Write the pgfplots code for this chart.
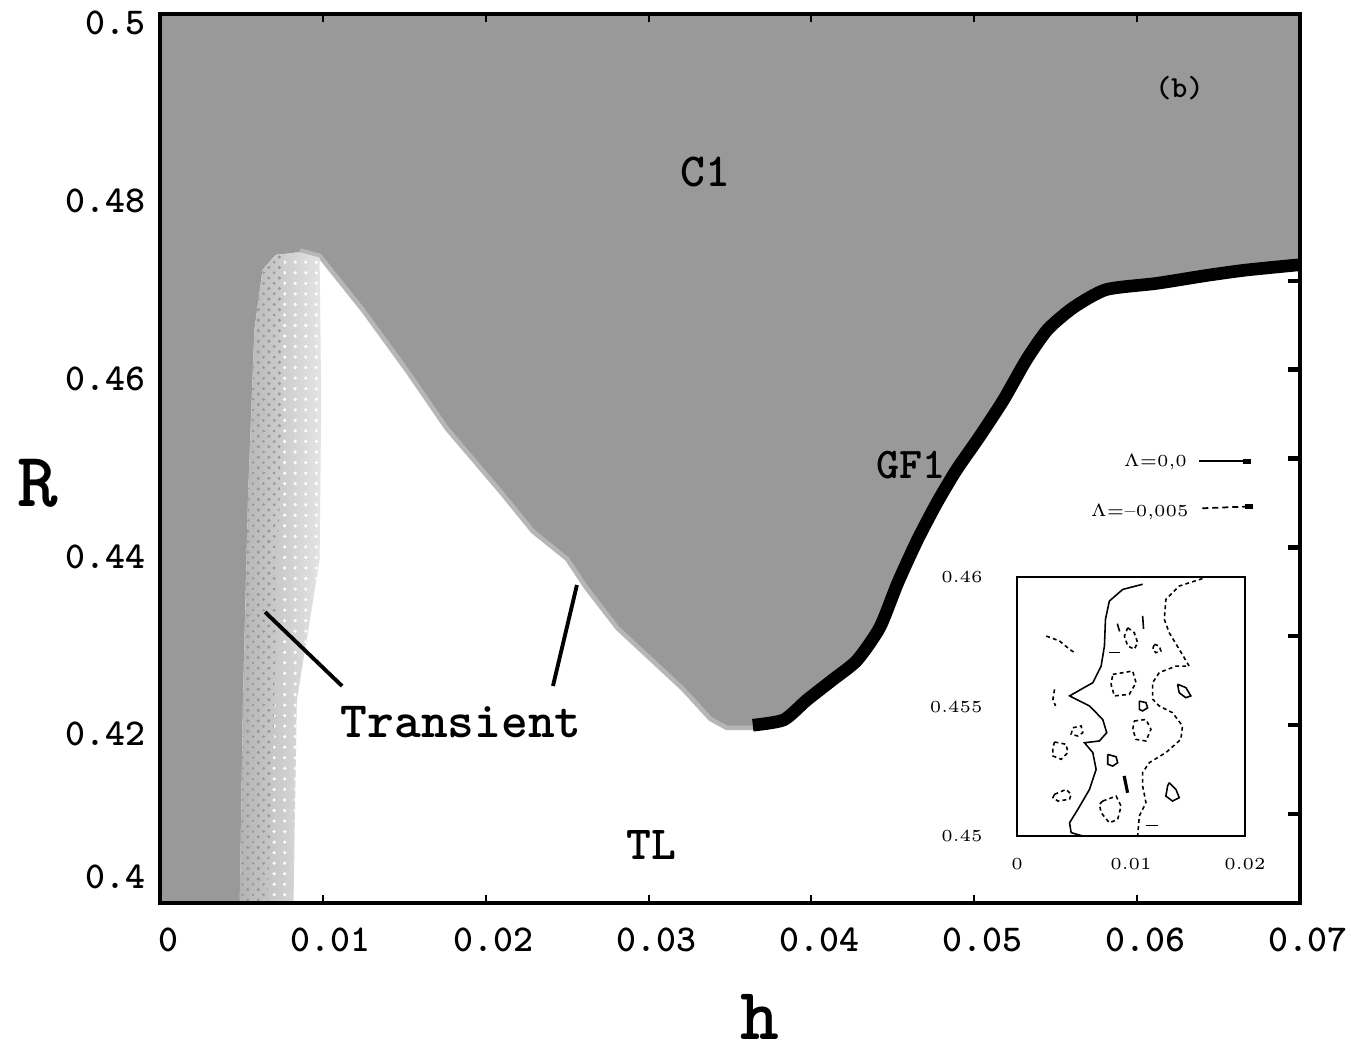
\documentclass[border=0pt]{standalone}
\usepackage{pgfplots}
\pgfplotsset{compat=1.18}
\usetikzlibrary{patterns}
\definecolor{regiongray}{RGB}{153,153,153}
\definecolor{rimgray}{RGB}{182,182,182}
\definecolor{banddark}{RGB}{180,180,180}
\definecolor{bandlight}{RGB}{228,228,228}
\newcommand{\lab}[1]{\ttfamily\bfseries\fontsize{#1}{#1}\selectfont}
\begin{document}
\begin{tikzpicture}
\path[use as bounding box] (-16mm,-15mm) rectangle (119.1mm,90.3mm);
\begin{axis}[
  at={(0,0)}, anchor=south west,
  width=114mm, height=88.9mm, scale only axis,
  xmin=0, xmax=0.07, ymin=0.4, ymax=0.5,
  axis on top, clip mode=individual,
  scaled x ticks=false, scaled y ticks=false,
  axis line style={line width=1.4pt},
  xtick={0,0.01,0.02,0.03,0.04,0.05,0.06,0.07},
  xticklabels={0,0.01,0.02,0.03,0.04,0.05,0.06,0.07},
  ytick={0.42,0.44,0.46,0.48,0.5},
  yticklabels={0.42,0.44,0.46,0.48,0.5},
  extra y ticks={0.4}, extra y tick labels={0.4},
  extra y tick style={ytick style={draw=none}, yticklabel style={yshift=3.5mm}},
  ytick style={draw=none},
  xtick style={black, line width=0.6pt},
  tick align=inside, major tick length=0.8mm,
  /pgf/number format/assume math mode=true,
  ticklabel style={font=\lab{10.8}},
  xticklabel style={yshift=-1.2mm, xshift=0.8mm},
  yticklabel style={xshift=-0.2mm, yshift=-0.9mm},
]
% C1 background
\addplot[draw=none, fill=regiongray] coordinates {(0,0.4)(0.07,0.4)(0.07,0.5)(0,0.5)} -- cycle;
% TL (white) region
\addplot[draw=none, fill=white] coordinates {
 (0.0049,0.4)(0.0051,0.4228)(0.0054,0.4453)(0.0058,0.4645)(0.0063,0.4712)(0.0071,0.4729)
 (0.0086,0.4732)(0.0098,0.4726)(0.0125,0.4664)(0.0152,0.4596)(0.0176,0.4532)(0.0209,0.4461)
 (0.0229,0.4416)(0.0250,0.4385)(0.0262,0.4352)(0.0281,0.4307)(0.0301,0.4273)(0.0321,0.4239)
 (0.0338,0.4205)(0.0348,0.4195)(0.0364,0.4195)(0.0383,0.4206)(0.0397,0.4228)(0.0413,0.4251)
 (0.0428,0.4273)(0.0442,0.4310)(0.0453,0.4360)(0.0465,0.4408)(0.0477,0.4450)(0.0489,0.4487)
 (0.0503,0.4524)(0.0518,0.4566)(0.0532,0.4611)(0.0545,0.4645)(0.0561,0.4670)(0.0581,0.4690)
 (0.0612,0.4697)(0.0643,0.4706)(0.0667,0.4712)(0.0700,0.4718)(0.0700,0.4)} -- cycle;
% light rim of the C1 boundary
\addplot[rimgray, line width=1.3pt, line join=round] coordinates {
 (0.0086,0.4734)(0.0098,0.4728)(0.0125,0.4666)(0.0152,0.4598)(0.0176,0.4534)(0.0209,0.4463)
 (0.0229,0.4418)(0.0250,0.4387)(0.0262,0.4354)(0.0281,0.4309)(0.0301,0.4275)(0.0321,0.4241)
 (0.0338,0.4207)(0.0348,0.4197)(0.0364,0.4197)};
% transient (stippled) band
\addplot[draw=none, left color=banddark, right color=bandlight] coordinates {
 (0.0049,0.4)(0.0051,0.4228)(0.0054,0.4453)(0.0058,0.4645)(0.0063,0.4712)(0.0071,0.4729)
 (0.0086,0.4732)(0.0098,0.4726)(0.0099,0.4566)(0.0098,0.4386)(0.0092,0.4318)(0.0084,0.4228)
 (0.0083,0.4116)(0.0082,0.4)} -- cycle;
\addplot[draw=none, pattern=dots, pattern color=white] coordinates {
 (0.0049,0.4)(0.0051,0.4228)(0.0054,0.4453)(0.0058,0.4645)(0.0063,0.4712)(0.0071,0.4729)
 (0.0086,0.4732)(0.0098,0.4726)(0.0099,0.4566)(0.0098,0.4386)(0.0092,0.4318)(0.0084,0.4228)
 (0.0083,0.4116)(0.0082,0.4)} -- cycle;
\addplot[draw=none, pattern=crosshatch dots, pattern color=regiongray] coordinates {
 (0.0049,0.4)(0.0051,0.4228)(0.0054,0.4453)(0.0058,0.4645)(0.0063,0.4712)(0.0071,0.4729)
 (0.0076,0.4731)(0.0074,0.4500)(0.0070,0.4200)(0.0066,0.4)} -- cycle;
% GF1 line
\addplot[black, line width=3.6pt, line join=round, smooth, tension=0.4] coordinates {
 (0.0364,0.4200)(0.0383,0.4206)(0.0397,0.4228)(0.0413,0.4251)(0.0428,0.4273)(0.0442,0.4310)
 (0.0453,0.4360)(0.0465,0.4408)(0.0477,0.4450)(0.0489,0.4487)(0.0503,0.4524)(0.0518,0.4566)
 (0.0532,0.4611)(0.0545,0.4645)(0.0561,0.4670)(0.0581,0.4690)(0.0612,0.4697)(0.0643,0.4706)
 (0.0667,0.4712)(0.0700,0.4718)};
% pointers to transient
\draw[line width=1.1pt] (axis cs:0.00645,0.43273) -- (axis cs:0.01118,0.42441);
\draw[line width=1.1pt] (axis cs:0.0256,0.43577) -- (axis cs:0.02413,0.42441);
% region labels
\node[font=\lab{13.5}] at (axis cs:0.0335,0.4822) {C1};
\node[font=\lab{8.7}] at (axis cs:0.0626,0.4917) {(b)};
\node[font=\lab{12.5}] at (axis cs:0.0461,0.4493) {GF1};
\node[font=\lab{14.5}] at (axis cs:0.0185,0.4204) {Transient};
\node[font=\lab{13.5}] at (axis cs:0.0302,0.4065) {TL};
% legend of the inset
\node[anchor=east, font=\fontsize{4.8}{5}\selectfont, inner sep=0pt] at (axis cs:0.0631,0.4496) {$\Lambda$=0,0};
\draw[line width=0.5pt] (axis cs:0.0638,0.4497) -- (axis cs:0.0668,0.4497);
\draw[line width=1.4pt] (axis cs:0.0665,0.4497) -- (axis cs:0.0670,0.4497);
\node[anchor=east, font=\fontsize{4.8}{5}\selectfont, inner sep=0pt] at (axis cs:0.0632,0.4440) {$\Lambda$=--0,005};
\draw[line width=0.5pt, dash pattern=on 0.6mm off 0.4mm] (axis cs:0.0640,0.4444) -- (axis cs:0.0668,0.4446);
\draw[line width=1.2pt] (axis cs:0.0666,0.4446) -- (axis cs:0.0671,0.4446);
% axis labels
\node[font=\lab{22}] at (rel axis cs:-0.107,0.472) {R};
\node[font=\lab{21}, inner sep=0pt] at (rel axis cs:0.526,-0.128) {h};
\end{axis}
% right-hand tick marks
\begin{axis}[
  at={(0,0)}, anchor=south west,
  width=114mm, height=88.9mm, scale only axis,
  xmin=0, xmax=0.07, ymin=0.4, ymax=0.5,
  hide x axis, axis y line*=right,
  scaled y ticks=false,
  axis line style={line width=1.4pt},
  ytick={0.41,0.42,0.43,0.44,0.45,0.46,0.47}, yticklabels={},
  tick align=inside, major tick length=1.2mm,
  ytick style={black, line width=1.2pt},
]
\addplot[draw=none] coordinates {(0,0.4)};
\end{axis}
% inset
\begin{axis}[
  at={(85.7mm,6.7mm)}, anchor=south west,
  width=22.8mm, height=25.9mm, scale only axis,
  xmin=0, xmax=0.02, ymin=0.45, ymax=0.46,
  scaled x ticks=false, scaled y ticks=false,
  axis line style={line width=0.5pt},
  xtick={0,0.01,0.02}, xticklabels={0,0.01,0.02},
  ytick={0.45,0.455,0.46}, yticklabels={0.45,0.455,0.46},
  major tick length=0pt,
  /pgf/number format/assume math mode=true,
  ticklabel style={font=\fontsize{4.8}{5}\selectfont},
  xticklabel style={yshift=-1mm},
  yticklabel style={xshift=-2.2mm},
  clip=true,
]
% Lambda = 0 (solid)
\addplot[black, line width=0.45pt] coordinates {
 (0.01102,0.45972)(0.00927,0.45952)(0.00810,0.45907)(0.00776,0.45837)(0.00767,0.45734)
 (0.00738,0.45656)(0.00665,0.45592)(0.00461,0.45541)(0.00636,0.45502)(0.00752,0.45450)
 (0.00787,0.45399)(0.00723,0.45367)(0.00592,0.45360)(0.00665,0.45322)(0.00694,0.45257)
 (0.00636,0.45180)(0.00534,0.45103)(0.00461,0.45051)(0.00475,0.45013)(0.00577,0.45000)};
\addplot[black, line width=0.45pt] coordinates {(0.0081,0.45708)(0.0090,0.45708)};
\addplot[black, line width=0.9pt] coordinates {(0.0094,0.45232)(0.0097,0.45167)};
% Lambda = -0.005 (dashed)
\addplot[black, line width=0.45pt, dash pattern=on 1.1pt off 0.9pt] coordinates {
 (0.01627,0.45994)(0.01423,0.45965)(0.01306,0.45914)(0.01292,0.45837)(0.01335,0.45785)
 (0.01423,0.45721)(0.01510,0.45656)(0.01394,0.45656)(0.01248,0.45631)(0.01190,0.45592)
 (0.01190,0.45528)(0.01248,0.45502)(0.01364,0.45476)(0.01452,0.45425)(0.01437,0.45373)
 (0.01306,0.45322)(0.01160,0.45283)(0.01102,0.45245)(0.01102,0.45193)(0.01131,0.45129)
 (0.01073,0.45077)(0.01058,0.45000)};
\addplot[black, line width=0.45pt, dash pattern=on 1.1pt off 0.9pt] coordinates {
 (0.00971,0.45804)(0.01029,0.45785)(0.01058,0.45746)(0.01029,0.45721)(0.00971,0.45734)(0.00942,0.45772)(0.00971,0.45804)};
\addplot[black, line width=0.45pt, dash pattern=on 1.1pt off 0.9pt] coordinates {
 (0.00840,0.45624)(0.01015,0.45637)(0.01044,0.45592)(0.00985,0.45547)(0.00854,0.45541)(0.00825,0.45586)(0.00840,0.45624)};
\addplot[black, line width=0.45pt] coordinates {
 (0.01073,0.45521)(0.01131,0.45515)(0.01146,0.45495)(0.01102,0.45483)(0.01073,0.45489)(0.01073,0.45521)};
\addplot[black, line width=0.45pt, dash pattern=on 1.1pt off 0.9pt] coordinates {
 (0.00490,0.45418)(0.00563,0.45425)(0.00577,0.45399)(0.00534,0.45386)(0.00475,0.45393)(0.00490,0.45418)};
\addplot[black, line width=0.45pt, dash pattern=on 1.1pt off 0.9pt] coordinates {
 (0.00329,0.45363)(0.00431,0.45354)(0.00446,0.45322)(0.00388,0.45296)(0.00315,0.45309)(0.00315,0.45341)(0.00329,0.45363)};
\addplot[black, line width=0.45pt] coordinates {
 (0.00796,0.45315)(0.00869,0.45306)(0.00883,0.45283)(0.00840,0.45270)(0.00796,0.45277)(0.00796,0.45315)};
\addplot[black, line width=0.45pt, dash pattern=on 1.1pt off 0.9pt] coordinates {
 (0.01029,0.45444)(0.01131,0.45450)(0.01175,0.45412)(0.01131,0.45367)(0.01044,0.45373)(0.01015,0.45412)(0.01029,0.45444)};
\addplot[black, line width=0.45pt] coordinates {
 (0.01335,0.45206)(0.01394,0.45180)(0.01423,0.45148)(0.01364,0.45135)(0.01306,0.45154)(0.01321,0.45193)(0.01335,0.45206)};
\addplot[black, line width=0.45pt] coordinates {
 (0.01408,0.45586)(0.01481,0.45573)(0.01525,0.45541)(0.01481,0.45534)(0.01423,0.45553)(0.01408,0.45586)};
\addplot[black, line width=0.45pt, dash pattern=on 1.1pt off 0.9pt] coordinates {
 (0.00752,0.45135)(0.00869,0.45154)(0.00913,0.45116)(0.00883,0.45064)(0.00810,0.45051)(0.00738,0.45090)(0.00723,0.45122)(0.00752,0.45135)};
\addplot[black, line width=0.45pt, dash pattern=on 1.1pt off 0.9pt] coordinates {
 (0.00329,0.45161)(0.00431,0.45180)(0.00475,0.45161)(0.00461,0.45142)(0.00359,0.45135)(0.00315,0.45148)(0.00329,0.45161)};
\addplot[black, line width=0.45pt, dash pattern=on 1.1pt off 0.9pt] coordinates {
 (0.00257,0.45772)(0.00373,0.45753)(0.00461,0.45721)(0.00504,0.45708)};
\addplot[black, line width=0.45pt, dash pattern=on 1.1pt off 0.9pt] coordinates {
 (0.01204,0.45740)(0.01248,0.45734)(0.01262,0.45714)(0.01219,0.45708)(0.01190,0.45721)(0.01204,0.45740)};
\addplot[black, line width=0.45pt, dash pattern=on 1.1pt off 0.9pt] coordinates {
 (0.00329,0.45566)(0.00315,0.45528)(0.00338,0.45502)};
\addplot[black, line width=0.45pt] coordinates {(0.01131,0.45041)(0.01233,0.45041)};
\addplot[black, line width=0.45pt] coordinates {(0.01102,0.45850)(0.01110,0.45800)};
\addplot[black, line width=0.45pt] coordinates {(0.00880,0.45820)(0.00900,0.45790)};
\end{axis}
\end{tikzpicture}
\end{document}
